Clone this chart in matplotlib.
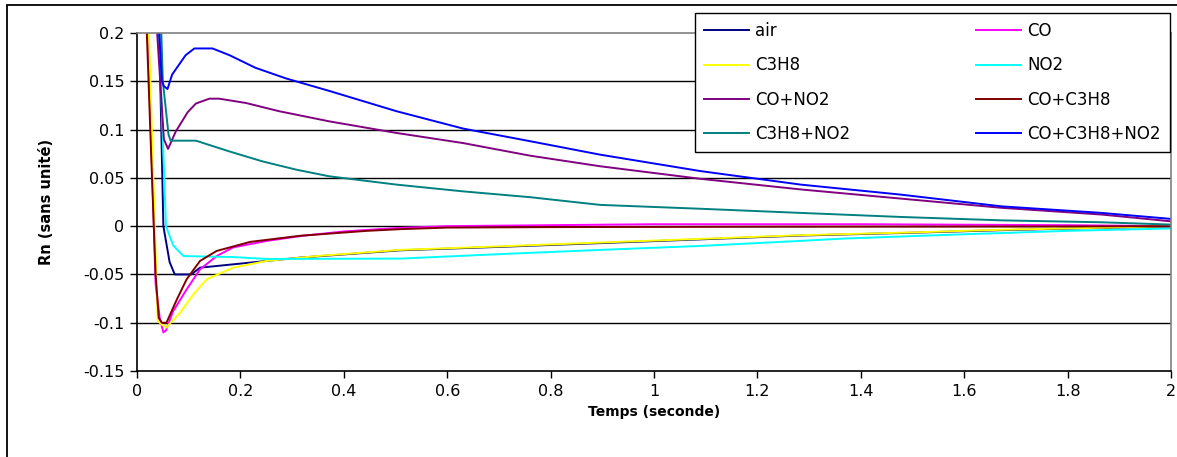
import matplotlib
matplotlib.use('Agg')
import matplotlib.pyplot as plt
from matplotlib.patches import Rectangle

# séries (temps en s, Rn sans unité)
t_air = [0.039, 0.043, 0.051, 0.063, 0.073, 0.105, 0.122, 0.22, 0.315, 0.51, 0.70, 0.90, 1.10, 1.28, 1.50, 1.67, 1.85, 2.0]
v_air = [0.30, 0.20, 0.0, -0.037, -0.050, -0.050, -0.043, -0.0377, -0.0326, -0.0250, -0.0215, -0.0175, -0.0135, -0.0098, -0.0068, -0.0042, -0.002, -0.0005]

t_co = [0.018, 0.021, 0.036, 0.044, 0.051, 0.056, 0.070, 0.096, 0.122, 0.154, 0.186, 0.251, 0.32, 0.40, 0.50, 0.60, 0.8, 1.0, 1.2, 1.4, 1.6, 1.8, 2.0]
v_co = [0.30, 0.20, -0.06, -0.095, -0.110, -0.108, -0.088, -0.0655, -0.0447, -0.031, -0.022, -0.0153, -0.010, -0.0055, -0.002, 0.0, 0.001, 0.002, 0.002, 0.002, 0.0015, 0.001, 0.0]

t_c3h8 = [0.020, 0.023, 0.040, 0.048, 0.057, 0.065, 0.083, 0.109, 0.135, 0.186, 0.251, 0.348, 0.509, 0.70, 0.896, 1.1, 1.282, 1.5, 1.669, 1.85, 2.0]
v_c3h8 = [0.30, 0.20, -0.098, -0.102, -0.105, -0.100, -0.090, -0.0707, -0.055, -0.043, -0.036, -0.031, -0.0246, -0.021, -0.017, -0.013, -0.0094, -0.0065, -0.0038, -0.0018, 0.0]

t_no2 = [0.040, 0.043, 0.048, 0.056, 0.070, 0.090, 0.186, 0.251, 0.51, 0.70, 0.896, 1.089, 1.282, 1.37, 1.605, 1.80, 2.0]
v_no2 = [0.30, 0.20, 0.12, 0.0, -0.020, -0.031, -0.032, -0.034, -0.0336, -0.029, -0.0246, -0.0205, -0.0153, -0.0128, -0.0083, -0.0049, -0.0024]

t_co_no2 = [0.036, 0.039, 0.052, 0.060, 0.075, 0.098, 0.114, 0.140, 0.159, 0.211, 0.275, 0.372, 0.502, 0.631, 0.760, 0.896, 1.09, 1.284, 1.478, 1.672, 1.866, 2.0]
v_co_no2 = [0.30, 0.20, 0.09, 0.080, 0.098, 0.118, 0.127, 0.132, 0.132, 0.1275, 0.119, 0.1085, 0.0965, 0.086, 0.073, 0.062, 0.049, 0.038, 0.0285, 0.019, 0.012, 0.005]

t_co_c3h8 = [0.016, 0.019, 0.027, 0.036, 0.042, 0.048, 0.057, 0.077, 0.096, 0.122, 0.154, 0.219, 0.315, 0.444, 0.51, 0.6, 0.8, 1.0, 1.2, 1.4, 1.6, 1.8, 2.0]
v_co_c3h8 = [0.30, 0.20, 0.08, -0.05, -0.095, -0.100, -0.100, -0.076, -0.055, -0.036, -0.0257, -0.0163, -0.010, -0.0049, -0.0031, -0.0015, -0.001, -0.0008, -0.0006, -0.0005, -0.0004, -0.0003, 0.0]

t_c3h8_no2 = [0.044, 0.047, 0.050, 0.061, 0.065, 0.114, 0.178, 0.243, 0.308, 0.372, 0.502, 0.631, 0.760, 0.896, 1.09, 1.284, 1.478, 1.672, 1.866, 2.0]
v_c3h8_no2 = [0.30, 0.20, 0.15, 0.0947, 0.0885, 0.0885, 0.0775, 0.067, 0.0585, 0.0516, 0.043, 0.036, 0.030, 0.022, 0.018, 0.0137, 0.0095, 0.006, 0.004, 0.0016]

t_all = [0.040, 0.043, 0.048, 0.052, 0.059, 0.068, 0.094, 0.111, 0.146, 0.179, 0.229, 0.288, 0.372, 0.502, 0.631, 0.760, 0.896, 1.09, 1.284, 1.478, 1.672, 1.866, 2.0]
v_all = [0.30, 0.20, 0.15, 0.145, 0.142, 0.157, 0.177, 0.184, 0.184, 0.177, 0.164, 0.153, 0.140, 0.119, 0.101, 0.088, 0.074, 0.057, 0.043, 0.0326, 0.0205, 0.0137, 0.0075]

labels = ['air', 'CO', 'C3H8', 'NO2', 'CO+NO2', 'CO+C3H8', 'C3H8+NO2', 'CO+C3H8+NO2']
colors = ['#000080', '#FF00FF', '#FFFF00', '#00FFFF', '#800080', '#800000', '#008080', '#0000FF']
series = [(t_air, v_air), (t_co, v_co), (t_c3h8, v_c3h8), (t_no2, v_no2),
          (t_co_no2, v_co_no2), (t_co_c3h8, v_co_c3h8), (t_c3h8_no2, v_c3h8_no2), (t_all, v_all)]

x_ticks = [0, 0.2, 0.4, 0.6, 0.8, 1, 1.2, 1.4, 1.6, 1.8, 2]
y_ticks = [-0.15, -0.1, -0.05, 0, 0.05, 0.1, 0.15, 0.2]

W, H = 1177, 457
fig = plt.figure(figsize=(W / 100, H / 100), dpi=100)
ax = fig.add_axes([137 / W, 1 - 371 / H, (1171 - 137) / W, (371 - 33) / H])

# cadre extérieur (coupé à droite et en bas comme sur l'original)
fig.patches.append(Rectangle((7 / W, -0.05), 1.1, 1 - 5 / H + 0.05, transform=fig.transFigure,
                             fill=False, edgecolor='black', linewidth=1.3, clip_on=False))

for y in y_ticks[1:-1]:
    ax.axhline(y, color='black', linewidth=1.0, zorder=1)

handles = []
for (t, v), lab, col in zip(series, labels, colors):
    h, = ax.plot(t, v, color=col, linewidth=1.4, label=lab, zorder=2)
    handles.append(h)

ax.set_xlim(0, 2)
ax.set_ylim(-0.15, 0.2)
ax.set_xticks(x_ticks)
ax.set_xticklabels(['%g' % x for x in x_ticks])
ax.set_yticks(y_ticks)
ax.set_yticklabels(['%g' % y for y in y_ticks])
ax.tick_params(direction='out', length=5, width=1, labelsize=11.5, pad=4)

for s in ['top', 'right']:
    ax.spines[s].set_color('#808080')
    ax.spines[s].set_linewidth(1.2)
for s in ['left', 'bottom']:
    ax.spines[s].set_color('black')
    ax.spines[s].set_linewidth(1.2)

ax.set_xlabel('Temps (seconde)', fontsize=10, fontweight='bold', labelpad=5)
ax.set_ylabel('Rn (sans unité)', fontsize=10.5, fontweight='bold', labelpad=21)

# légende : ordre ligne par ligne comme Excel
order = [0, 2, 4, 6, 1, 3, 5, 7]
leg = fig.legend([handles[i] for i in order], [labels[i] for i in order], ncol=2,
                 loc='upper right', bbox_to_anchor=(1170 / W, 1 - 13 / H),
                 fontsize=12, frameon=True, fancybox=False, edgecolor='black',
                 framealpha=1, borderpad=0.55, labelspacing=0.98, handlelength=2.7,
                 handletextpad=0.36, columnspacing=7.55, borderaxespad=0)
leg.get_frame().set_linewidth(1.0)

fig.savefig('out.png', dpi=100)
